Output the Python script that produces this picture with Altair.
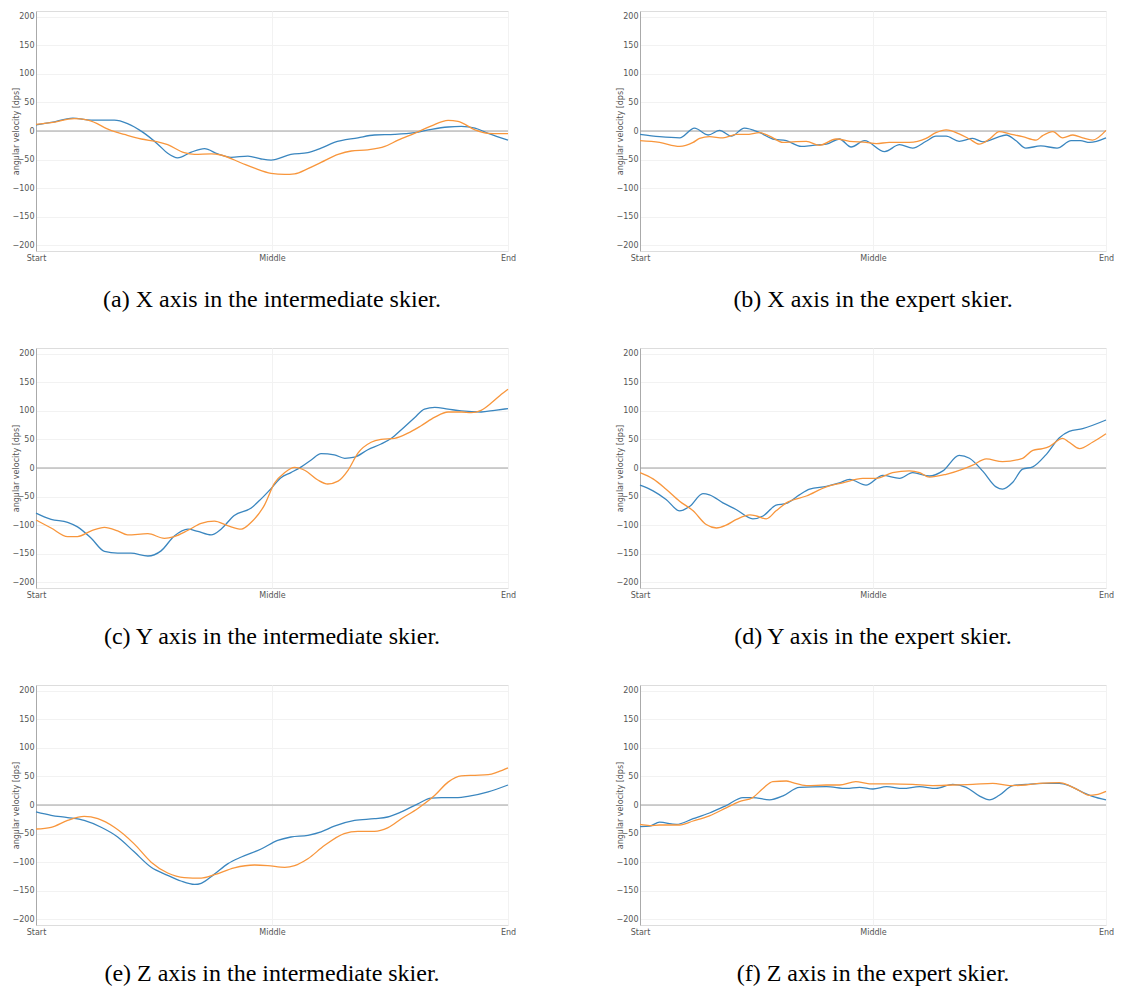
import altair as alt
import pandas as pd

# ---------------- data ----------------
# x position: 0 = Start, 50 = Middle, 100 = End ; values in dps
a_blue_t = [0, 3.2, 7.8, 11.7, 16.6, 19.4, 22.6, 25.8, 27.9, 30, 32.9, 35.7, 38.5, 41.3, 44.9, 47.7, 49.8, 54, 57.6, 60.4, 63.2, 68.2, 71.7, 76, 80.2, 83.8, 87.3, 90.1, 93, 95.8, 100]
a_blue_v = [10.5, 15, 22.7, 19, 19, 13, -2, -23, -39, -47, -37, -31, -40, -46, -44, -49, -51, -41, -38, -30, -20, -12, -7, -6, -3, 3, 7, 8, 5, -4, -16]
a_orange_t = [0, 3.2, 8.1, 11, 16, 18.7, 22.3, 25.8, 27.9, 31.4, 33.6, 37.1, 39.2, 43.5, 46.3, 49.8, 52.7, 54.8, 57.6, 60.4, 64, 66.8, 70.3, 73.9, 76.7, 80.2, 83.8, 87.3, 89.4, 93, 95.8, 98, 100]
a_orange_v = [11.6, 14.5, 21.5, 19, 0.6, -6, -14, -19, -24, -38, -41, -40, -42, -56, -65, -74, -76, -75, -66, -55, -41, -35, -33, -27, -16, -4, 9, 18.6, 17, 2, -4, -4.6, -4.6]

b_blue_t = [0, 4.2, 8.5, 11.7, 14.6, 17.1, 19.6, 22.4, 25.7, 28.5, 31.4, 34.6, 37.1, 40, 42.8, 45.3, 48.2, 52.5, 55.7, 58.5, 61.4, 63.5, 65.7, 68.5, 71.4, 73.6, 76.4, 78.6, 80.7, 82.8, 86, 89.5, 92.5, 94.5, 96.5, 100]
b_blue_v = [-6, -10, -12, 5, -7, 1, -9, 5, -3, -14, -17, -27, -25, -23, -14, -28, -17, -36, -24, -30, -18, -9, -9, -18, -13, -19, -12, -7, -17, -30, -26, -30, -17, -17, -20, -12]
b_orange_t = [0, 4.2, 8.5, 11.4, 12.8, 14.9, 17.8, 20.7, 22.8, 25.7, 27.8, 30.7, 32.8, 35.7, 38.5, 42.1, 45, 48.5, 50.7, 53.5, 57.8, 61.4, 63.5, 65.7, 68.5, 70.7, 72.8, 75, 77.1, 79.3, 82.1, 85, 86.4, 88.6, 90.7, 92.9, 95, 97.1, 100]
b_orange_v = [-17, -20, -27, -20, -13, -10, -12, -6, -6, -3, -9, -20, -19, -18, -25, -14, -18, -20, -22, -20, -20, -13, -3, 2, -5, -14, -23, -14, -1, -5, -10, -16, -8, -1, -12, -7, -12, -16, 1]

c_blue_t = [0, 3.2, 6.7, 8.8, 11.7, 14.5, 17.3, 20.1, 23.7, 26.5, 29.3, 32.2, 34.3, 37.1, 39.2, 42, 45.6, 47.7, 49.8, 51.9, 54, 56.2, 58.3, 60.4, 63.2, 65.4, 67.5, 70.3, 73.1, 75.3, 77.4, 80.2, 82.3, 84.5, 87.3, 90.1, 94.3, 97.2, 100]
c_blue_v = [-79, -90, -95, -103, -123, -146, -149, -149, -154, -145, -119, -107, -111, -117, -107, -83, -70, -54, -36, -17, -8, 2, 14, 25, 23, 17, 19, 32, 42, 52, 67, 88, 103, 106, 103, 100, 98, 101, 104]
c_orange_t = [0, 3.2, 6.7, 8.8, 11.7, 14.5, 17.3, 19.4, 23.7, 27.2, 29.3, 32.2, 35, 37.8, 40.6, 43.5, 45.6, 48.4, 50.5, 52.7, 54.8, 56.9, 59.7, 61.8, 64, 66.1, 68.2, 71, 73.1, 76, 78.8, 81.6, 84.5, 87.3, 90.1, 92.2, 94.3, 96.5, 98.6, 100]
c_orange_v = [-91, -105, -120, -120, -110, -104, -110, -117, -115, -123, -120, -109, -97, -93, -101, -107, -95, -65, -27, -8, 1, -4, -21, -28, -23, -4, 26, 45, 50, 52, 61, 74, 89, 98, 98, 97, 101, 114, 129, 138]

d_blue_t = [0, 2.8, 5.6, 8.5, 10.7, 13.5, 14.9, 17.8, 20.7, 24.2, 26.4, 29.2, 31.4, 34.2, 36.4, 40, 42.8, 45, 48.5, 52.1, 55.7, 58.5, 62.1, 65, 68.5, 70.7, 73.6, 76.4, 77.8, 80, 82.1, 84.3, 87.1, 90, 92.1, 95, 100]
d_blue_v = [-30, -40, -55, -75, -67, -45, -47, -61, -73, -89, -84, -65, -62, -47, -37, -32, -26, -20, -30, -13, -18, -8, -14, -5, 22, 17, -6, -33, -37, -25, -2, 2, 23, 53, 64, 69, 84]
d_orange_t = [0, 2.8, 5.6, 8.5, 11.4, 14.2, 16.4, 18.5, 20.7, 23.6, 25, 27.1, 29.2, 31.4, 35.7, 40, 43.5, 47.8, 50.7, 54.2, 57.8, 60, 62.1, 65.7, 69.3, 71.4, 74.3, 77.8, 82.1, 84.3, 86.4, 87.9, 90.7, 92.1, 94.3, 97.1, 100]
d_orange_v = [-8, -19, -37, -58, -75, -99, -105, -100, -90, -82, -84, -89, -75, -61, -49, -33, -26, -18, -18, -8, -5, -8, -16, -11, -2, 5, 16, 11, 17, 31, 34, 38, 52, 45, 34, 45, 60]

e_blue_t = [0, 3.2, 6.7, 10.2, 13.8, 17.3, 20.8, 24.4, 27.9, 30.7, 33.6, 35, 37.8, 40.6, 43.5, 47.7, 51.2, 54, 57.6, 60.4, 63.2, 67.5, 71.7, 74.5, 77.4, 80.9, 83.7, 85.9, 89.4, 91.5, 95.8, 100]
e_blue_v = [-12, -18, -22, -27, -39, -56, -82, -109, -123, -133, -139, -137, -121, -103, -91, -77, -62, -56, -53, -47, -37, -27, -24, -21, -12, 2, 12, 13, 13, 15, 23, 35]
e_orange_t = [0, 3.2, 6.7, 10.2, 13.1, 16.6, 20.8, 24.4, 27.9, 31.4, 35, 37.8, 42, 46.3, 49.1, 52.7, 54.8, 57.6, 61.1, 65.3, 68.2, 71.7, 74.5, 77.4, 80.9, 84.5, 87.3, 90.1, 93, 95.8, 97.9, 100]
e_orange_v = [-42, -39, -27, -20, -24, -39, -68, -100, -119, -127, -128, -122, -110, -105, -106, -109, -106, -94, -71, -50, -46, -46, -40, -24, -6, 17, 40, 51, 52, 53, 58, 65]

f_blue_t = [0, 2.1, 4.2, 7.8, 11.4, 14.9, 18.5, 22.1, 24.2, 27.8, 30.7, 34.2, 40, 44.3, 47.1, 50, 52.9, 56.4, 60, 63.5, 67.1, 70, 72.8, 75, 77.1, 80, 82.8, 86.4, 90, 92.1, 95, 97.1, 100]
f_blue_v = [-38, -37, -30, -34, -24, -14, -1, 13, 13, 9, 16, 31, 32, 29, 31, 28, 32, 29, 32, 29, 36, 31, 16, 9, 17, 34, 36, 38, 38, 34, 22, 15, 9]
f_orange_t = [0, 2.1, 4.2, 8.5, 11.4, 14.9, 18.5, 21.3, 24.2, 26.4, 28.5, 31.4, 32.8, 35.7, 40, 42.8, 46.3, 49.2, 54.2, 58.5, 62.8, 67.1, 71.4, 75.7, 79.3, 82.8, 85.7, 90, 92.1, 94.3, 96.4, 97.9, 100]
f_orange_v = [-34, -36, -35, -35, -28, -19, -5, 6, 13, 29, 41, 42, 39, 34, 35, 35, 41, 37, 37, 36, 34, 35, 36, 38, 34, 35, 38, 39, 34, 25, 17, 18, 24]

captions = [
    "(a) X axis in the intermediate skier.",
    "(b) X axis in the expert skier.",
    "(c) Y axis in the intermediate skier.",
    "(d) Y axis in the expert skier.",
    "(e) Z axis in the intermediate skier.",
    "(f) Z axis in the expert skier.",
]
x_tick_values = [0, 50, 100]
x_tick_labels = ["Start", "Middle", "End"]
y_tick_values = [-200, -150, -100, -50, 0, 50, 100, 150, 200]
series_names = ["series 1", "series 2"]
series_colors = ["#3a86bf", "#f8963c"]

panels = [
    (a_blue_t, a_blue_v, a_orange_t, a_orange_v),
    (b_blue_t, b_blue_v, b_orange_t, b_orange_v),
    (c_blue_t, c_blue_v, c_orange_t, c_orange_v),
    (d_blue_t, d_blue_v, d_orange_t, d_orange_v),
    (e_blue_t, e_blue_v, e_orange_t, e_orange_v),
    (f_blue_t, f_blue_v, f_orange_t, f_orange_v),
]

LABEL_FONT = "DejaVu Sans"
PLOT_H = 240
label_expr = (
    "datum.value == 0 ? '" + x_tick_labels[0] + "' : (datum.value == 50 ? '"
    + x_tick_labels[1] + "' : '" + x_tick_labels[2] + "')"
)


def make_panel(idx, width):
    bt, bv, ot, ov = panels[idx]
    df = pd.DataFrame({
        "t": bt + ot,
        "v": bv + ov,
        "s": [series_names[0]] * len(bt) + [series_names[1]] * len(ot),
    })
    x = alt.X(
        "t:Q",
        scale=alt.Scale(domain=[0, 100], nice=False, zero=False),
        axis=alt.Axis(
            values=x_tick_values, labelExpr=label_expr, title=None,
            domain=False, ticks=False, grid=True, gridColor="#f2f2f2",
            gridWidth=1, labelColor="#555555", labelFontSize=8,
            labelFont=LABEL_FONT, labelPadding=3, labelFlush=False,
        ),
    )
    y = alt.Y(
        "v:Q",
        scale=alt.Scale(domain=[-210, 210], nice=False, zero=False),
        axis=alt.Axis(
            values=y_tick_values, title="angular velocity [dps]",
            domain=True, domainColor="#aaaaaa", domainWidth=1,
            ticks=False, grid=True, gridColor="#f2f2f2", gridWidth=1,
            labelColor="#555555", labelFontSize=8, labelFont=LABEL_FONT,
            labelPadding=2, titleFont=LABEL_FONT, titleFontSize=8,
            titleFontWeight="normal", titleColor="#555555",
            titleX=-19.5, titleY=PLOT_H / 2, titleBaseline="middle",
            titleAlign="center", titleAngle=270,
        ),
    )
    zero = alt.Chart(pd.DataFrame({"v": [0]})).mark_rule(
        color="#a0a0a0", strokeWidth=1
    ).encode(y=y)
    lines = alt.Chart(df).mark_line(
        interpolate="monotone", strokeWidth=1.3
    ).encode(
        x=x,
        y=y,
        color=alt.Color(
            "s:N",
            scale=alt.Scale(domain=series_names, range=series_colors),
            legend=None,
        ),
    )
    return alt.layer(zero, lines).properties(
        width=width,
        height=PLOT_H,
        title=alt.TitleParams(
            text=captions[idx], orient="bottom", anchor="middle",
            font="Liberation Serif", fontSize=24, fontWeight="normal",
            color="#000000", offset=26,
        ),
    )


rows = []
for r in range(3):
    rows.append(
        alt.hconcat(make_panel(2 * r, 472), make_panel(2 * r + 1, 466), spacing=98)
    )

chart = alt.vconcat(*rows, spacing=34).properties(
    padding={"left": 3, "top": 2, "right": 0, "bottom": 0}
).configure_view(strokeWidth=0).configure(background="white")

chart.save("out.html", embed_options={"renderer": "svg", "actions": False})
